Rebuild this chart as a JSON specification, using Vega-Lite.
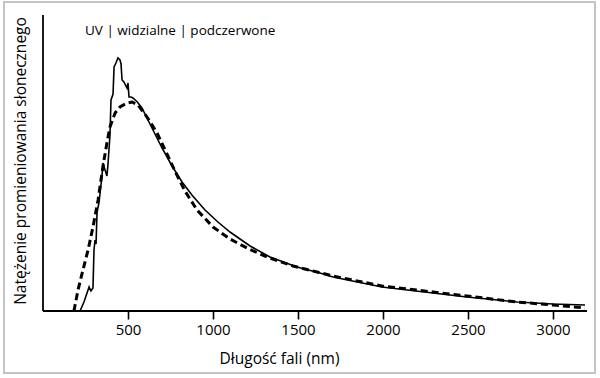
{
  "$schema": "https://vega.github.io/schema/vega-lite/v6.json",
  "width": 591,
  "height": 371,
  "autosize": {"type": "none"},
  "padding": {"left": 4, "top": 2, "right": 5, "bottom": 5},
  "background": "white",
  "config": {
    "view": {"stroke": "#c4c4c4", "strokeWidth": 2},
    "font": "Open Sans",
    "axis": {"grid": false, "labelFont": "Open Sans", "titleFont": "Open Sans", "labelColor": "black", "titleColor": "black", "titleFontWeight": "normal"}
  },
  "datasets": {
    "solid": [
      {"nm": 218, "v": 0}, {"nm": 241, "v": 9}, {"nm": 259, "v": 18}, {"nm": 271, "v": 24},
      {"nm": 282, "v": 20}, {"nm": 294, "v": 23}, {"nm": 300, "v": 61}, {"nm": 306, "v": 71},
      {"nm": 312, "v": 67}, {"nm": 318, "v": 99}, {"nm": 329, "v": 108}, {"nm": 347, "v": 135},
      {"nm": 353, "v": 148}, {"nm": 365, "v": 141}, {"nm": 376, "v": 135}, {"nm": 382, "v": 146},
      {"nm": 394, "v": 176}, {"nm": 400, "v": 211}, {"nm": 412, "v": 217}, {"nm": 418, "v": 244},
      {"nm": 429, "v": 248}, {"nm": 441, "v": 253}, {"nm": 453, "v": 251}, {"nm": 459, "v": 247},
      {"nm": 465, "v": 231}, {"nm": 476, "v": 229}, {"nm": 488, "v": 225}, {"nm": 494, "v": 223},
      {"nm": 500, "v": 228}, {"nm": 506, "v": 214}, {"nm": 518, "v": 214}, {"nm": 529, "v": 213},
      {"nm": 555, "v": 209}, {"nm": 582, "v": 203}, {"nm": 641, "v": 183}, {"nm": 700, "v": 163},
      {"nm": 759, "v": 145}, {"nm": 818, "v": 129}, {"nm": 876, "v": 116}, {"nm": 953, "v": 101},
      {"nm": 1029, "v": 89}, {"nm": 1100, "v": 79}, {"nm": 1218, "v": 65}, {"nm": 1335, "v": 54},
      {"nm": 1494, "v": 44}, {"nm": 1629, "v": 38}, {"nm": 1706, "v": 34}, {"nm": 1994, "v": 24},
      {"nm": 2294, "v": 18}, {"nm": 2494, "v": 14}, {"nm": 2788, "v": 9}, {"nm": 3000, "v": 7},
      {"nm": 3188, "v": 6}
    ],
    "dashed": [
      {"nm": 182, "v": 0}, {"nm": 206, "v": 21}, {"nm": 235, "v": 41}, {"nm": 265, "v": 61},
      {"nm": 294, "v": 84}, {"nm": 324, "v": 111}, {"nm": 353, "v": 145}, {"nm": 376, "v": 168},
      {"nm": 394, "v": 184}, {"nm": 424, "v": 198}, {"nm": 453, "v": 204}, {"nm": 494, "v": 208},
      {"nm": 524, "v": 209}, {"nm": 559, "v": 206}, {"nm": 612, "v": 194}, {"nm": 671, "v": 178},
      {"nm": 735, "v": 155}, {"nm": 776, "v": 140}, {"nm": 835, "v": 120}, {"nm": 906, "v": 101},
      {"nm": 1000, "v": 84}, {"nm": 1100, "v": 72}, {"nm": 1200, "v": 63}, {"nm": 1318, "v": 54},
      {"nm": 1471, "v": 45}, {"nm": 1612, "v": 39}, {"nm": 1706, "v": 35}, {"nm": 1994, "v": 25},
      {"nm": 2294, "v": 19}, {"nm": 2494, "v": 15}, {"nm": 2788, "v": 9}, {"nm": 3000, "v": 6},
      {"nm": 3188, "v": 3}
    ],
    "axes": [
      {"x": 0, "x2": 3200, "y": 0, "y2": 0},
      {"x": 0, "x2": 0, "y": 0, "y2": 296}
    ],
    "label": [
      {"nm": 247, "v": 276, "text": "UV | widzialne | podczerwone"}
    ]
  },
  "layer": [
    {
      "data": {"name": "solid"},
      "mark": {"type": "line", "color": "black", "strokeWidth": 1.6, "strokeJoin": "miter"},
      "encoding": {
        "x": {
          "field": "nm", "type": "quantitative",
          "scale": {"domain": [-229.4, 3247.1], "nice": false, "zero": false},
          "axis": {
            "title": "Długość fali (nm)",
            "values": [500, 1000, 1500, 2000, 2500, 3000],
            "format": "d",
            "offset": -62,
            "domain": false,
            "tickSize": 8,
            "tickWidth": 1.6,
            "tickColor": "black",
            "labelFontSize": 15,
            "labelPadding": 3,
            "titleFontSize": 15.5,
            "titleX": 275,
            "titleY": 52,
            "titleBaseline": "alphabetic",
            "titleAlign": "center"
          }
        },
        "y": {
          "field": "v", "type": "quantitative",
          "scale": {"domain": [-62, 309], "nice": false, "zero": false},
          "axis": {
            "title": "Natężenie promieniowania słonecznego",
            "offset": -39,
            "domain": false,
            "ticks": false,
            "labels": false,
            "titleFontSize": 15.5,
            "titleAngle": -90,
            "titleX": -18,
            "titleY": 158.5,
            "titleAlign": "center",
            "titleBaseline": "alphabetic"
          }
        }
      }
    },
    {
      "data": {"name": "dashed"},
      "mark": {"type": "line", "color": "black", "strokeWidth": 3, "strokeDash": [7, 4]},
      "encoding": {
        "x": {"field": "nm", "type": "quantitative"},
        "y": {"field": "v", "type": "quantitative"}
      }
    },
    {
      "data": {"name": "axes"},
      "mark": {"type": "rule", "color": "black", "strokeWidth": 1.8},
      "encoding": {
        "x": {"field": "x", "type": "quantitative"},
        "x2": {"field": "x2"},
        "y": {"field": "y", "type": "quantitative"},
        "y2": {"field": "y2"}
      }
    },
    {
      "data": {"name": "label"},
      "mark": {"type": "text", "align": "left", "baseline": "alphabetic", "fontSize": 13.5, "color": "black", "font": "Open Sans"},
      "encoding": {
        "x": {"field": "nm", "type": "quantitative"},
        "y": {"field": "v", "type": "quantitative"},
        "text": {"field": "text"}
      }
    }
  ]
}
